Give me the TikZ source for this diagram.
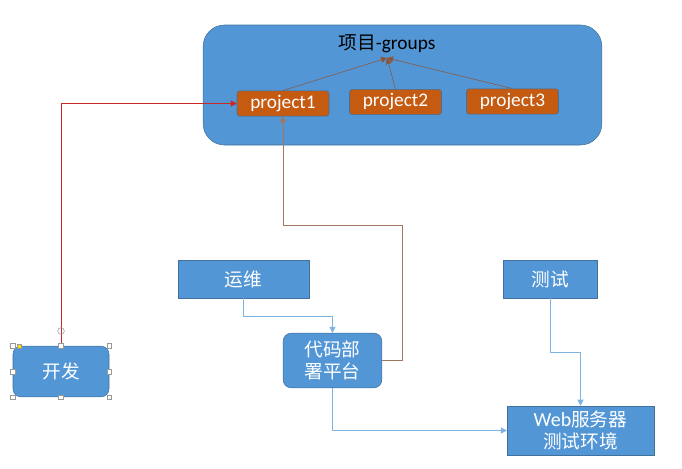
\documentclass[tikz,border=0pt]{standalone}
\usepackage{fontspec}
\setmainfont{Carlito}
\newfontfamily\cjk{Noto Sans CJK SC}
\usetikzlibrary{arrows.meta, positioning, calc}
\definecolor{boxfill}{RGB}{83,150,213}
\definecolor{boxline}{RGB}{65,113,156}
\definecolor{projfill}{RGB}{197,90,17}
\definecolor{brownc}{RGB}{140,85,55}
\definecolor{linkc}{RGB}{125,180,228}
\definecolor{devc}{RGB}{200,40,40}

\begin{document}
\begin{tikzpicture}[x=0.75pt, y=-0.75pt,
  box/.style={draw=boxline, fill=boxfill, text=white, font=\cjk\fontsize{14}{16}\selectfont,
    align=center, inner sep=0pt},
  rbox/.style={box, rounded corners=6pt},
  proj/.style={draw=boxline, fill=projfill, text=white, rounded corners=2pt,
    font=\fontsize{14.5}{16}\selectfont, minimum width=69pt, minimum height=19pt, inner sep=0pt},
  tip/.style={-{Triangle[length=4.5pt, width=4.5pt]}},
  handle/.style={draw=black!40, fill=white, minimum size=3.5pt, inner sep=0pt}]
  \useasboundingbox (0,0) rectangle (682,468);
  % group of projects
  \node[box, rounded corners=16pt, minimum width=299pt, minimum height=90pt] (grp) at (402.5,85) {};
  \node[text=black, font=\fontsize{14.5}{16}\selectfont] (title) at (387,44) {{\cjk\fontsize{14}{16}\selectfont 项目}-groups};
  \coordinate (top) at (387,58);
  \node[proj] (p1) at (283,103.5) {project1};
  \node[proj] (p2) at (395.5,102) {project2};
  \node[proj] (p3) at (512.5,101.5) {project3};
  \foreach \p in {p1,p2,p3}
    \draw[brownc, tip] (\p.north) -- (top);
  % roles and platform
  \node[box, minimum width=98pt, minimum height=28.5pt] (yw) at (243.5,279) {运维};
  \node[box, minimum width=70.5pt, minimum height=28.5pt] (cs) at (550,279) {测试};
  \node[rbox, minimum width=72pt, minimum height=38pt] (kf) at (61,371.5) {开发};
  \node[rbox, minimum width=74pt, minimum height=41pt] (dm) at (332.5,360.5) {代码部\\署平台};
  \node[box, minimum width=110pt, minimum height=36.75pt] (web) at (580.5,430.5)
    {{\fontspec{Carlito}\fontsize{15}{16}\selectfont Web}服务器\\测试环境};
  % connectors
  \draw[devc, tip] (kf.north) |- (p1.west);
  \coordinate (bend) at (402,225);
  \draw[brownc!80, tip] (dm.east) -| (bend) -| (p1.south);
  \draw[linkc, tip] (yw.south) -- ++(0,18) -| (dm.north);
  \draw[linkc, tip] (cs.south) -- ++(0,54) -| (web.north);
  \draw[linkc, tip] (dm.south) |- (web.west);
  % selection handles on the dev box
  \foreach \a in {north west,north,north east,east,south east,south,south west,west}
    \node[handle] at (kf.\a) {};
  \node[handle, fill=yellow!80!orange, minimum size=3pt] at ($(kf.north west)+(7,0)$) {};
  \draw[black!40] (61,331) circle (2.5pt);
\end{tikzpicture}
\end{document}
